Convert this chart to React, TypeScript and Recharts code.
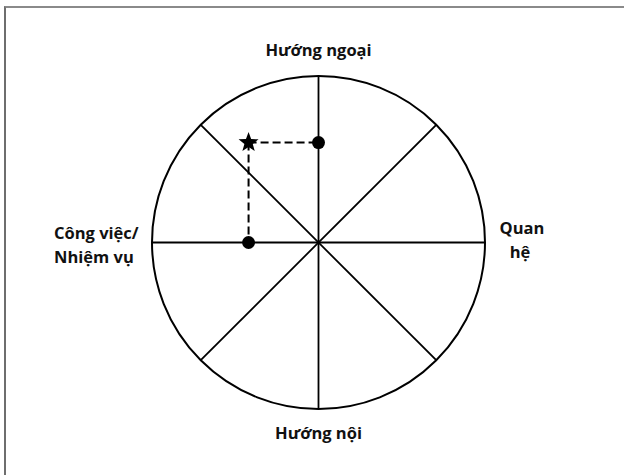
import React from 'react';
import { ScatterChart, Scatter, XAxis, YAxis, ReferenceLine, ReferenceDot } from 'recharts';

// axis poles: top, right, bottom, left
const poleLabels = ['Hướng ngoại', 'Quan hệ', 'Hướng nội', 'Công việc/ Nhiệm vụ'];
const spokeAngles = [0, 45, 90, 135];
const dots = [
  { x: 0, y: 6 },
  { x: -4.2, y: 0 },
];
const stars = [{ x: -4.2, y: 6 }];

const W = 624;
const H = 475;
const margin = { top: 76, right: 139, bottom: 66, left: 152 };
const plot = W - margin.left - margin.right; // square plot
const R = 10;
const font = '"Open Sans", sans-serif';

const toRad = (d: number) => (d * Math.PI) / 180;

const DotShape = (props: any) => <circle cx={props.cx} cy={props.cy} r={6.5} fill="#000" />;

const StarShape = (props: any) => {
  const { cx, cy } = props;
  const pts: string[] = [];
  for (let i = 0; i < 10; i++) {
    const r = i % 2 === 0 ? 10.5 : 4.4;
    const a = toRad(-90 + i * 36);
    pts.push(`${cx + r * Math.cos(a)},${cy + r * Math.sin(a)}`);
  }
  return <polygon points={pts.join(' ')} fill="#000" />;
};

const labelStyle = { fontFamily: font, fontWeight: 700, fontSize: 16.5, fill: '#111' };

export default function App() {
  const cx = margin.left + plot / 2;
  return (
    <div style={{ position: 'absolute', left: 0, top: 0, width: W, height: H, background: '#fff' }}>
      <div
        style={{
          position: 'absolute',
          left: 4,
          top: 6,
          right: 0,
          bottom: 0,
          borderTop: '2px solid #8a8a8a',
          borderLeft: '2px solid #6e6e6e',
        }}
      />
      <div style={{ position: 'absolute', left: 0, top: 0 }}>
        <ScatterChart width={W} height={H} margin={margin}>
          <XAxis type="number" dataKey="x" domain={[-R, R]} hide />
          <YAxis type="number" dataKey="y" domain={[-R, R]} hide />
          <ReferenceDot x={0} y={0} r={plot / 2} fill="none" stroke="#000" strokeWidth={2} />
          {spokeAngles.map((a) => (
            <ReferenceLine
              key={a}
              segment={[
                { x: R * Math.cos(toRad(a)), y: R * Math.sin(toRad(a)) },
                { x: -R * Math.cos(toRad(a)), y: -R * Math.sin(toRad(a)) },
              ]}
              stroke="#000"
              strokeWidth={1.8}
            />
          ))}
          {dots.map((d, i) => (
            <ReferenceLine
              key={'dash' + i}
              segment={[stars[0], d]}
              stroke="#000"
              strokeWidth={2}
              strokeDasharray="8 4"
            />
          ))}
          <Scatter data={dots} shape={DotShape} isAnimationActive={false} />
          <Scatter data={stars} shape={StarShape} isAnimationActive={false} />
          <text x={cx} y={56} textAnchor="middle" style={labelStyle}>
            {poleLabels[0]}
          </text>
          <text x={522} y={234} textAnchor="middle" style={labelStyle}>
            <tspan x={522}>{poleLabels[1].split(' ')[0]}</tspan>
            <tspan x={520} dy={24}>{poleLabels[1].split(' ')[1]}</tspan>
          </text>
          <text x={cx} y={439} textAnchor="middle" style={labelStyle}>
            {poleLabels[2]}
          </text>
          <text x={54} y={239} textAnchor="start" style={labelStyle}>
            <tspan x={54}>{poleLabels[3].split(' ').slice(0, 2).join(' ')}</tspan>
            <tspan x={54} dy={24}>{poleLabels[3].split(' ').slice(2).join(' ')}</tspan>
          </text>
        </ScatterChart>
      </div>
    </div>
  );
}
